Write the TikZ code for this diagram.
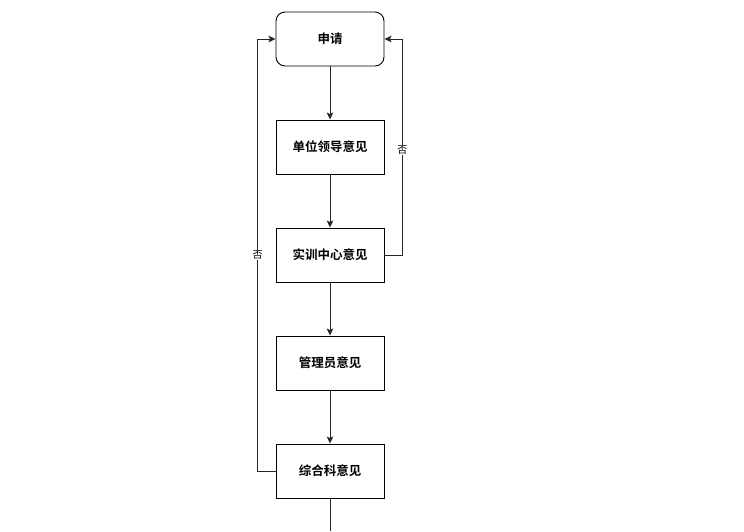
\documentclass[tikz,border=0pt]{standalone}
\usepackage{fontspec}
\newfontfamily\cjk{Noto Sans CJK SC}
\newfontfamily\cjkb{Noto Sans CJK SC Bold}
\usetikzlibrary{arrows.meta}
\begin{document}
\begin{tikzpicture}[x=1pt,y=-1pt,
  box/.style={draw=black,line width=0.9pt,minimum width=108pt,minimum height=54pt,inner sep=0pt,font=\cjkb\fontsize{12.5}{14}\selectfont},
  rbox/.style={box,rounded corners=9pt},
  conn/.style={draw=black!85,line width=0.9pt,-{Stealth[length=7pt,width=6.5pt,inset=1.5pt]}},
  lab/.style={fill=white,inner sep=1pt,font=\cjk\fontsize{10}{12}\selectfont}]
\useasboundingbox[fill=white] (0,0) rectangle (744,531);
\node[rbox] (a) at (330,39) {申请};
\node[box] (b) at (330,147) {单位领导意见};
\node[box] (c) at (330,255) {实训中心意见};
\node[box] (d) at (330,363) {管理员意见};
\node[box] (e) at (330,471) {综合科意见};
\coordinate (endp) at (330,531);
\draw[conn] (a) -- (b);
\draw[conn] (b) -- (c);
\draw[conn] (c) -- (d);
\draw[conn] (d) -- (e);
\draw[draw=black!85,line width=0.9pt] (e) -- (endp);
\draw[conn] (c.east) -- ++(18,0) |- node[lab,pos=0.243] {否} (a.east);
\draw[conn] (e.west) -- ++(-18,0) |- node[lab,pos=0.25] {否} (a.west);
\end{tikzpicture}
\end{document}
